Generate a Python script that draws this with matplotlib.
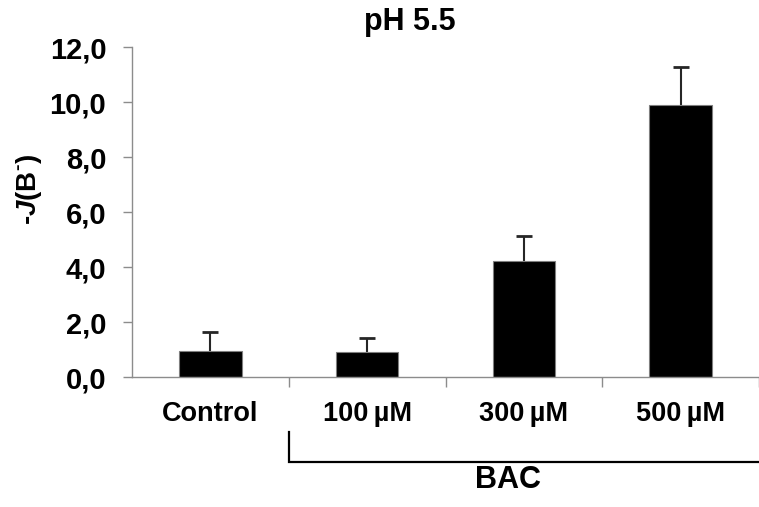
import numpy as np
import matplotlib
matplotlib.use('Agg')
import matplotlib.pyplot as plt

plt.rcParams['font.family'] = ['Liberation Sans', 'DejaVu Sans']
plt.rcParams['font.weight'] = 'bold'
plt.rcParams['mathtext.fontset'] = 'custom'
plt.rcParams['mathtext.bf'] = 'Liberation Sans:bold'
plt.rcParams['mathtext.bfit'] = 'Liberation Sans:bold:italic'
plt.rcParams['mathtext.rm'] = 'Liberation Sans:bold'

categories = ['Control', '100\u2009µM', '300\u2009µM', '500\u2009µM']
means = [0.97, 0.92, 4.24, 9.90]
errors = [0.67, 0.51, 0.89, 1.37]
y_ticks = [0, 2, 4, 6, 8, 10, 12]
y_tick_labels = ['0,0', '2,0', '4,0', '6,0', '8,0', '10,0', '12,0']

W, H = 759, 507
fig = plt.figure(figsize=(W / 100, H / 100), dpi=100)
ax = fig.add_axes([132 / W, 1 - 377.3 / H, (W - 132) / W, 330 / H])

x = np.arange(len(categories))
ax.bar(x, means, width=0.4, color='black', edgecolor='#7f7f7f', linewidth=0.8, zorder=2)
ax.errorbar(x, means, yerr=[np.zeros(len(errors)), errors], fmt='none',
            ecolor='#262626', elinewidth=1.5, capsize=0, zorder=1)
ax.plot(x, np.add(means, errors), linestyle='none', marker='_', markersize=11,
        markeredgewidth=2, color='#262626', zorder=1)

axis_grey = '#8c8c8c'
ax.set_xlim(-0.5, 3.42)
ax.set_ylim(0, 12)
ax.set_yticks(y_ticks)
ax.set_yticklabels(y_tick_labels, fontsize=21, fontweight='bold')
ax.tick_params(axis='y', direction='out', length=6.5, width=1, color=axis_grey, pad=12)

ax.set_xticks(x)
ax.set_xticklabels(categories, fontsize=19.5, fontweight='bold')
ax.set_xticks(np.arange(-0.5, 4.0, 1.0)[1:], minor=True)
ax.tick_params(axis='x', which='major', length=0, pad=17)
ax.tick_params(axis='x', which='minor', direction='out', length=7, width=1, color=axis_grey)

for side in ['top', 'right']:
    ax.spines[side].set_visible(False)
for side in ['left', 'bottom']:
    ax.spines[side].set_color(axis_grey)
    ax.spines[side].set_linewidth(1)

ax.set_ylabel('-$\\mathbfit{J}$(B$^{\\text{-}}$)', fontsize=20, fontweight='bold')
ax.yaxis.set_label_coords(-0.14, 0.57)

# BAC bracket below the treated groups
ax.plot([0.5, 0.5, 3.6], [-1.99, -3.08, -3.08], color='black', lw=1.6, clip_on=False,
        solid_joinstyle='miter')
ax.text(1.90, -3.72, 'BAC', fontsize=22, fontweight='bold', ha='center', va='center')

fig.text(410 / W, 1 - 22 / H, 'pH 5.5', fontsize=22, fontweight='bold', ha='center', va='center')

fig.savefig('out.png', dpi=100)
